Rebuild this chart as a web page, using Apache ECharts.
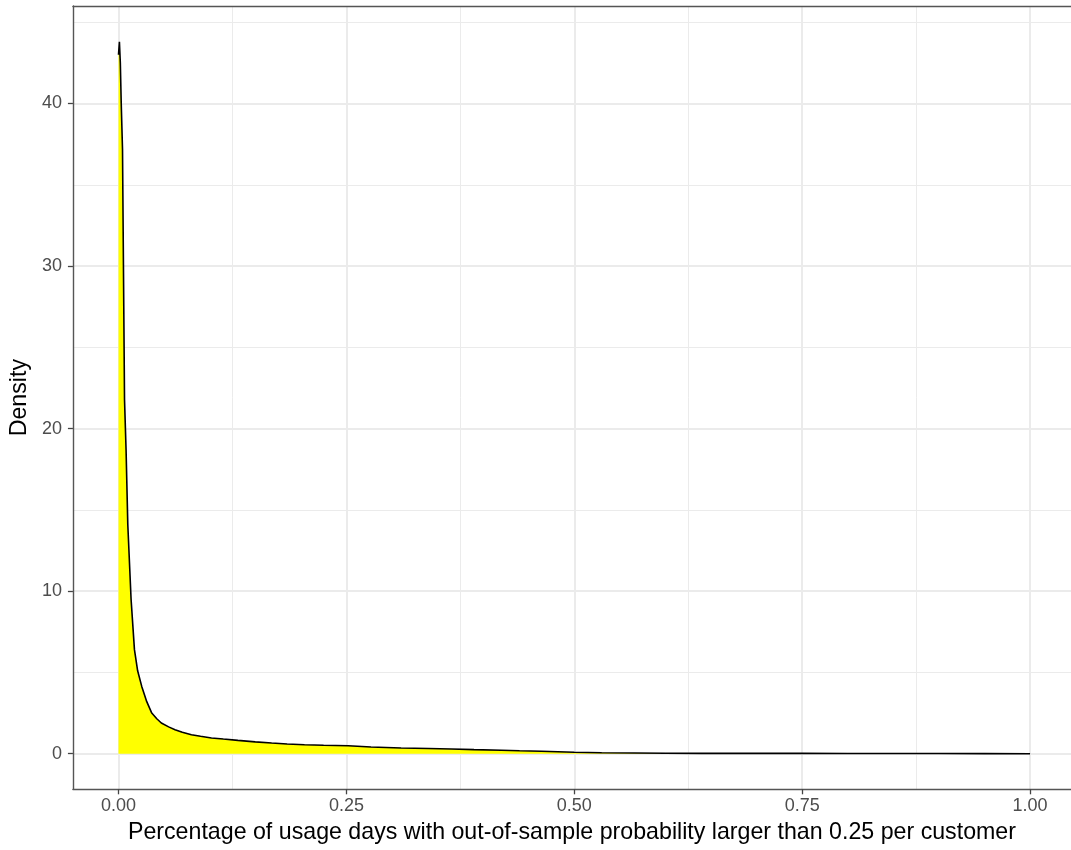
<!DOCTYPE html>
<html>
<head>
<meta charset="utf-8">
<script src="https://cdn.jsdelivr.net/npm/echarts@6/dist/echarts.min.js"></script>
<style>
html,body{margin:0;padding:0;background:#fff;}
#c{width:1071px;height:850px;}
</style>
</head>
<body>
<div id="c"></div>
<script>
// x positions (share of usage days) and estimated density values
const xValues = [0, 0.001, 0.002, 0.003, 0.0044, 0.0055, 0.0066, 0.0083, 0.0102, 0.0138, 0.0175, 0.021, 0.0255, 0.031, 0.0365, 0.042, 0.047, 0.055, 0.062, 0.070, 0.080, 0.090, 0.102, 0.115, 0.131, 0.150, 0.168, 0.185, 0.204, 0.225, 0.252, 0.277, 0.31, 0.34, 0.365, 0.39, 0.42, 0.44, 0.464, 0.5, 0.53, 0.566, 0.6, 0.64, 0.7, 0.75, 0.8, 0.85, 0.9, 0.95, 1.0];
const densityValues = [43.0, 43.8, 42.5, 40.0, 37.2, 29.5, 21.8, 18.7, 14.1, 9.5, 6.4, 5.1, 4.14, 3.2, 2.5, 2.15, 1.89, 1.65, 1.48, 1.32, 1.17, 1.07, 0.97, 0.9, 0.82, 0.73, 0.66, 0.6, 0.55, 0.52, 0.49, 0.41, 0.35, 0.32, 0.29, 0.25, 0.21, 0.18, 0.15, 0.09, 0.06, 0.04, 0.03, 0.02, 0.02, 0.02, 0.015, 0.01, 0.01, 0.005, 0.0];

const xTicks = [0, 0.25, 0.5, 0.75, 1.0];
const xMinorTicks = [0.125, 0.375, 0.625, 0.875];
const yTicks = [0, 10, 20, 30, 40];
const yMinorTicks = [5, 15, 25, 35, 45];

const xTitle = 'Percentage of usage days with out-of-sample probability larger than 0.25 per customer';
const yTitle = 'Density';

const FONT = '"Liberation Sans", Arial, Helvetica, sans-serif';
const chart = echarts.init(document.getElementById('c'), null, {renderer: 'canvas'});

const points = xValues.map((x, i) => [x, densityValues[i]]);

// panel runs past the right edge of the picture
const xMin = -0.05, xMax = 1.0449;
const yMin = -2.19, yMax = 46.0;
const frame = {show: true, onZero: false, lineStyle: {color: '#555555', width: 1.4}};
const tickStyle = {color: '#444444', width: 1.3};

chart.setOption({
  animation: false,
  backgroundColor: '#ffffff',
  grid: {
    left: 71, top: 6, right: 0, bottom: 60.7,
    show: false
  },
  xAxis: [
    {
      type: 'value', min: xMin, max: xMax, position: 'bottom',
      axisLine: frame,
      axisTick: {show: true, customValues: xTicks, length: 5, lineStyle: tickStyle},
      axisLabel: {customValues: xTicks, margin: 8, color: '#4D4D4D', fontSize: 18, fontFamily: FONT,
        formatter: v => v.toFixed(2)},
      splitLine: {show: true, lineStyle: {color: '#EBEBEB', width: 2}},
      name: xTitle, nameLocation: 'middle', nameGap: 32,
      nameTextStyle: {color: '#000000', fontSize: 23.2, fontFamily: FONT}
    },
    {
      type: 'value', min: xMin, max: xMax, gridIndex: 0, position: 'top',
      axisLine: frame,
      axisTick: {show: false, customValues: xMinorTicks},
      axisLabel: {show: false, customValues: xMinorTicks},
      splitLine: {show: true, lineStyle: {color: '#EBEBEB', width: 1}}
    }
  ],
  yAxis: [
    {
      type: 'value', min: yMin, max: yMax, position: 'left',
      axisLine: frame,
      axisTick: {show: true, customValues: yTicks, length: 5, lineStyle: tickStyle},
      axisLabel: {customValues: yTicks, margin: 11, color: '#4D4D4D', fontSize: 18, fontFamily: FONT},
      splitLine: {show: true, lineStyle: {color: '#EBEBEB', width: 2}},
      name: yTitle, nameLocation: 'middle', nameGap: 36, nameRotate: 90,
      nameTextStyle: {color: '#000000', fontSize: 23.2, fontFamily: FONT}
    },
    {
      type: 'value', min: yMin, max: yMax, gridIndex: 0, position: 'left',
      axisLine: {show: false},
      axisTick: {show: false, customValues: yMinorTicks},
      axisLabel: {show: false, customValues: yMinorTicks},
      splitLine: {show: true, lineStyle: {color: '#EBEBEB', width: 1}}
    }
  ],
  series: [
    {
      type: 'line',
      xAxisIndex: 0, yAxisIndex: 0,
      data: points,
      showSymbol: false,
      symbol: 'none',
      smooth: false,
      lineStyle: {color: '#000000', width: 1.6},
      areaStyle: {color: '#FFFF00', opacity: 1, origin: 0},
      z: 5
    }
  ]
});
</script>
</body>
</html>
